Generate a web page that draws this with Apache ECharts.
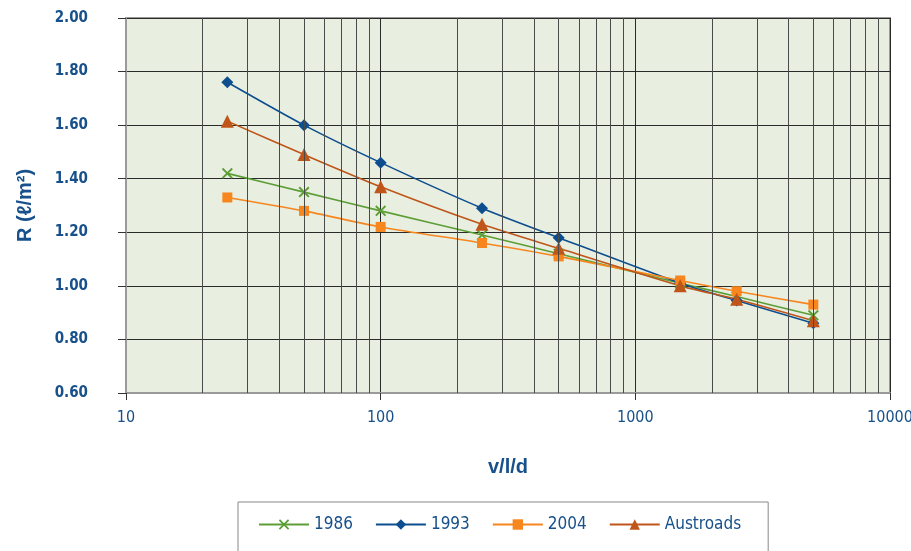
<!DOCTYPE html>
<html>
<head>
<meta charset="utf-8">
<script src="https://cdn.jsdelivr.net/npm/echarts@6/dist/echarts.min.js"></script>
<style>html,body{margin:0;padding:0;background:#fff}#c{width:911px;height:551px}</style>
</head>
<body>
<div id="c"></div>
<script>
const xValues = [25, 50, 100, 250, 500, 1500, 2500, 5000];
const r1986 = [1.42, 1.35, 1.28, 1.19, 1.12, 1.01, 0.96, 0.89];
const r1993 = [1.76, 1.60, 1.46, 1.29, 1.18, 1.01, 0.945, 0.86];
const r2004 = [1.33, 1.28, 1.22, 1.16, 1.11, 1.02, 0.98, 0.93];
const rAustroads = [1.615, 1.49, 1.37, 1.23, 1.14, 1.00, 0.95, 0.87];
const seriesNames = ['1986', '1993', '2004', 'Austroads'];
const minorGridX = [20,30,40,50,60,70,80,90,200,300,400,500,600,700,800,900,2000,3000,4000,5000,6000,7000,8000,9000];

const txt = '#17508a';
const font = "'DejaVu Sans Condensed', 'Liberation Sans Narrow', sans-serif";
const xSymbol = 'path://M0,1.2L1.2,0L5,3.8L8.8,0L10,1.2L6.2,5L10,8.8L8.8,10L5,6.2L1.2,10L0,8.8L3.8,5Z';

function pairs(arr){ return xValues.map((x,i)=>[x, arr[i]]); }

const chart = echarts.init(document.getElementById('c'), null, {renderer:'canvas'});
chart.setOption({
  animation: false,
  grid: {left:126, right:21, top:18, bottom:158, show:true, backgroundColor:'#e8eee0', borderColor:'#9a9a9a', borderWidth:2, containLabel:false, outerBoundsMode:'none'},
  xAxis: {
    type:'log', logBase:10, min:10, max:10000,
    name:'v/l/d', nameLocation:'middle', nameGap:64,
    nameTextStyle:{color:txt, fontSize:20, fontWeight:'bold', fontFamily:'Liberation Sans, sans-serif'},
    axisLine:{show:true, lineStyle:{color:'#9a9a9a', width:2}},
    axisTick:{show:true, length:7, lineStyle:{color:'#333'}},
    axisLabel:{color:txt, fontSize:16, fontFamily:font, margin:17, formatter:v=>String(Math.round(v))},
    splitLine:{show:true, lineStyle:{color:'#2a2a2a', width:1}}
  },
  yAxis: {
    type:'value', min:0.6, max:2.0, interval:0.2,
    name:'R (ℓ/m²)', nameLocation:'middle', nameGap:91, nameRotate:90,
    nameTextStyle:{color:txt, fontSize:20, fontWeight:'bold', fontFamily:'Liberation Sans, sans-serif'},
    axisLine:{show:true, lineStyle:{color:'#9a9a9a', width:2}},
    axisTick:{show:true, length:8, lineStyle:{color:'#333'}},
    axisLabel:{color:txt, fontSize:15, fontFamily:font, fontWeight:'bold', margin:38, formatter:v=>v.toFixed(2)},
    splitLine:{show:true, lineStyle:{color:'#2a2a2a', width:1}}
  },
  legend: {
    data: seriesNames,
    left:238, top:502,
    backgroundColor:'#fff', borderColor:'#888', borderWidth:1,
    padding:[14, 27, 22, 20],
    itemWidth:50, itemHeight:13, itemGap:22,
    textStyle:{color:txt, fontSize:17, fontFamily:font}
  },
  series: [
    {
      name:'grid', type:'line', data:[], silent:true, z:1,
      markLine:{silent:true, symbol:['none','none'], label:{show:false},
        lineStyle:{color:'#4a4a4a', width:1, type:'solid'},
        data: minorGridX.map(v=>({xAxis:v}))}
    },
    {name:seriesNames[0], type:'line', data:pairs(r1986), smooth:0.25, z:3,
      symbol:xSymbol, symbolSize:11, itemStyle:{color:'#5c9e35'}, lineStyle:{color:'#5c9e35', width:1.6}},
    {name:seriesNames[1], type:'line', data:pairs(r1993), smooth:0.25, z:3,
      symbol:'diamond', symbolSize:12, itemStyle:{color:'#0d4e8e'}, lineStyle:{color:'#0d4e8e', width:1.6}},
    {name:seriesNames[2], type:'line', data:pairs(r2004), smooth:0.25, z:3,
      symbol:'rect', symbolSize:10, itemStyle:{color:'#f7861e'}, lineStyle:{color:'#f7861e', width:1.6}},
    {name:seriesNames[3], type:'line', data:pairs(rAustroads), smooth:0.25, z:3,
      symbol:'triangle', symbolSize:13, itemStyle:{color:'#bf5518'}, lineStyle:{color:'#bf5518', width:1.6}}
  ]
});
</script>
</body>
</html>
